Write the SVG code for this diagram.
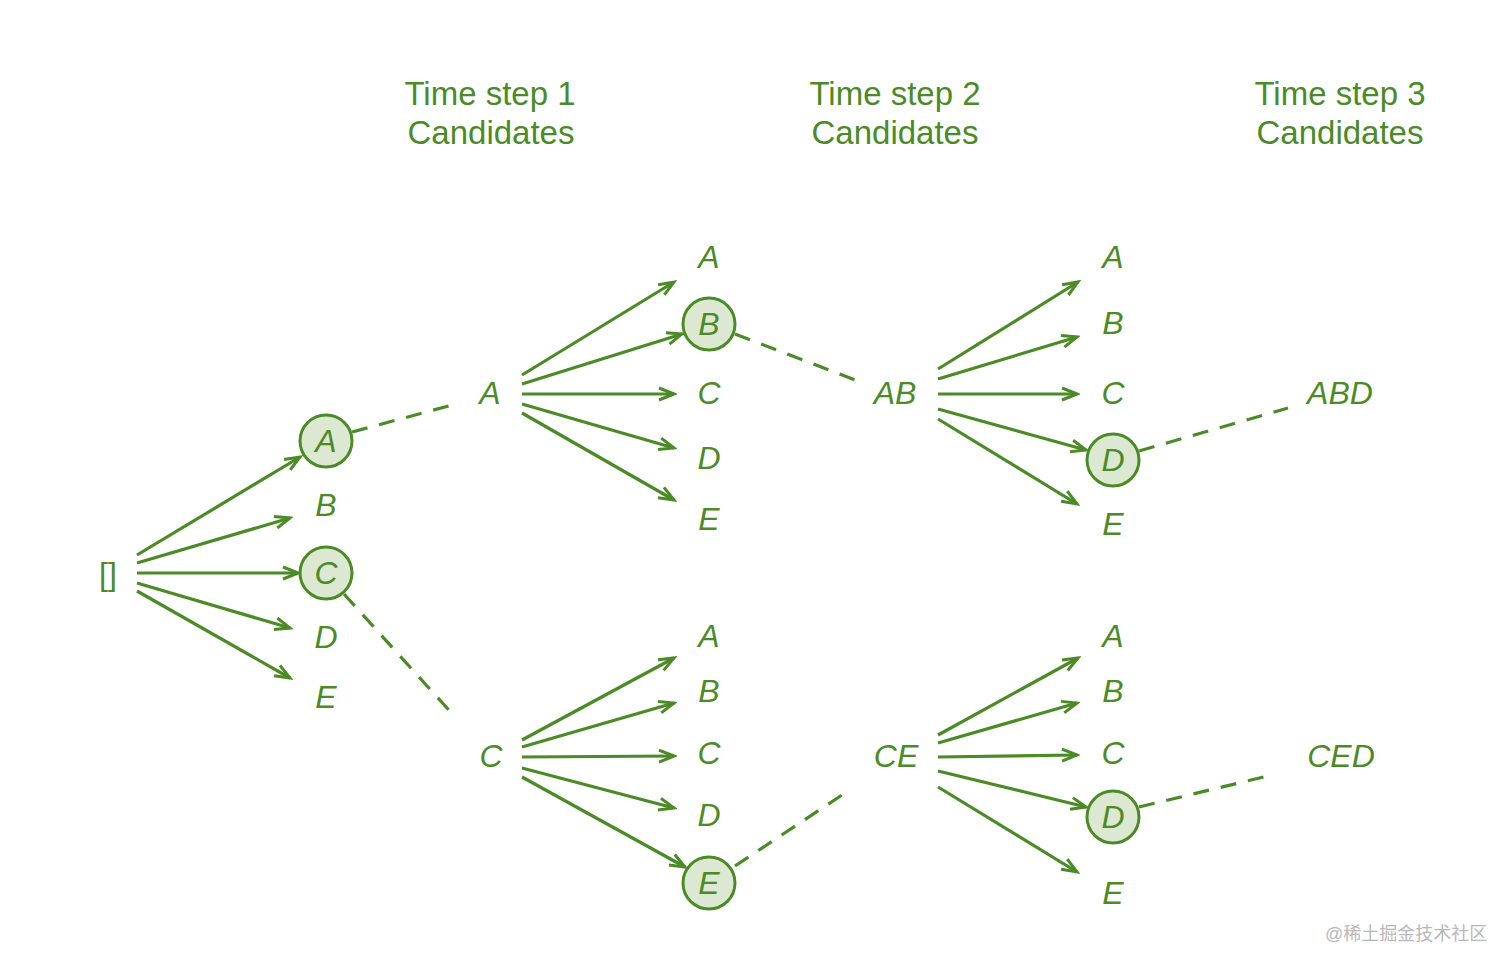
<svg xmlns="http://www.w3.org/2000/svg" width="1512" height="969" viewBox="0 0 1512 969">
<style>
.hdr{font-family:"Liberation Sans",Arial,sans-serif;font-size:33px;fill:#4b8b25;text-anchor:middle}
.lbl{font-family:"Liberation Sans",Arial,sans-serif;font-size:32px;font-style:italic;fill:#4b8b25;text-anchor:middle}
.sel{fill:#dde8d3;stroke:#4b8b25;stroke-width:3}
.arr{stroke:#4b8b25;stroke-width:3.2;fill:none;marker-end:url(#ah)}
.dash{stroke:#4b8b25;stroke-width:3.2;fill:none;stroke-dasharray:16 12}
.wm{font-family:"Liberation Sans","Noto Sans CJK SC",sans-serif;font-size:18px;fill:#b8b8b8}
</style>
<defs>
<marker id="ah" markerUnits="userSpaceOnUse" markerWidth="20" markerHeight="16" refX="17" refY="8" orient="auto">
<path d="M2,2 L17,8 L2,14" fill="none" stroke="#4b8b25" stroke-width="3"/>
</marker>
</defs>
<rect width="1512" height="969" fill="#fff"/>
<g id="headers">
<text class="hdr" x="490" y="105">Time step 1</text>
<text class="hdr" x="491" y="144">Candidates</text>
<text class="hdr" x="895" y="105">Time step 2</text>
<text class="hdr" x="895" y="144">Candidates</text>
<text class="hdr" x="1340" y="105">Time step 3</text>
<text class="hdr" x="1340" y="144">Candidates</text>
</g>
<g id="connectors">
<line class="arr" x1="137" y1="555" x2="300" y2="457"/>
<line class="arr" x1="137" y1="563" x2="290" y2="518"/>
<line class="arr" x1="137" y1="573" x2="298" y2="573"/>
<line class="arr" x1="137" y1="583" x2="290" y2="628"/>
<line class="arr" x1="137" y1="591" x2="290" y2="678"/>
<line class="dash" x1="352" y1="432" x2="456" y2="404"/>
<line class="dash" x1="344" y1="594" x2="456" y2="718"/>
<line class="arr" x1="522" y1="375" x2="674" y2="282"/>
<line class="arr" x1="522" y1="384" x2="682" y2="334"/>
<line class="arr" x1="522" y1="394" x2="674" y2="394"/>
<line class="arr" x1="522" y1="404" x2="674" y2="448"/>
<line class="arr" x1="522" y1="413" x2="674" y2="500"/>
<line class="dash" x1="735" y1="334" x2="855" y2="380"/>
<line class="arr" x1="938" y1="369" x2="1078" y2="282"/>
<line class="arr" x1="938" y1="379" x2="1077" y2="337"/>
<line class="arr" x1="938" y1="394" x2="1077" y2="394"/>
<line class="arr" x1="938" y1="409" x2="1086" y2="450"/>
<line class="arr" x1="938" y1="419" x2="1077" y2="504"/>
<line class="dash" x1="1139" y1="451" x2="1288" y2="408"/>
<line class="arr" x1="522" y1="740" x2="674" y2="658"/>
<line class="arr" x1="522" y1="747" x2="674" y2="703"/>
<line class="arr" x1="522" y1="757" x2="674" y2="756"/>
<line class="arr" x1="522" y1="768" x2="674" y2="808"/>
<line class="arr" x1="522" y1="777" x2="685" y2="867"/>
<line class="dash" x1="735" y1="866" x2="845" y2="793"/>
<line class="arr" x1="938" y1="735" x2="1078" y2="658"/>
<line class="arr" x1="938" y1="743" x2="1077" y2="703"/>
<line class="arr" x1="938" y1="757" x2="1077" y2="755"/>
<line class="arr" x1="938" y1="771" x2="1086" y2="807"/>
<line class="arr" x1="938" y1="787" x2="1077" y2="872"/>
<line class="dash" x1="1139" y1="807" x2="1272" y2="775"/>
</g>
<g id="root"><text class="lbl" x="108" y="585" style="font-style:normal">[]</text></g>
<g id="t1">
<g id="t1-A"><circle class="sel" cx="326" cy="441" r="26"/><text class="lbl" x="326" y="452">A</text></g>
<g id="t1-B"><text class="lbl" x="326" y="516">B</text></g>
<g id="t1-C"><circle class="sel" cx="326" cy="573" r="26"/><text class="lbl" x="326" y="584">C</text></g>
<g id="t1-D"><text class="lbl" x="326" y="648">D</text></g>
<g id="t1-E"><text class="lbl" x="326" y="708">E</text></g>
</g>
<g id="n-A"><text class="lbl" x="490" y="404">A</text></g>
<g id="n-C"><text class="lbl" x="491" y="767">C</text></g>
<g id="t2a">
<g id="t2a-A"><text class="lbl" x="709" y="268">A</text></g>
<g id="t2a-B"><circle class="sel" cx="709" cy="324" r="26"/><text class="lbl" x="709" y="335">B</text></g>
<g id="t2a-C"><text class="lbl" x="709" y="404">C</text></g>
<g id="t2a-D"><text class="lbl" x="709" y="469">D</text></g>
<g id="t2a-E"><text class="lbl" x="709" y="530">E</text></g>
</g>
<g id="t2c">
<g id="t2c-A"><text class="lbl" x="709" y="647">A</text></g>
<g id="t2c-B"><text class="lbl" x="709" y="702">B</text></g>
<g id="t2c-C"><text class="lbl" x="709" y="764">C</text></g>
<g id="t2c-D"><text class="lbl" x="709" y="826">D</text></g>
<g id="t2c-E"><circle class="sel" cx="709" cy="883" r="26"/><text class="lbl" x="709" y="894">E</text></g>
</g>
<g id="n-AB"><text class="lbl" x="895" y="404">AB</text></g>
<g id="n-CE"><text class="lbl" x="896" y="767">CE</text></g>
<g id="t3a">
<g id="t3a-A"><text class="lbl" x="1113" y="268">A</text></g>
<g id="t3a-B"><text class="lbl" x="1113" y="334">B</text></g>
<g id="t3a-C"><text class="lbl" x="1113" y="404">C</text></g>
<g id="t3a-D"><circle class="sel" cx="1113" cy="460" r="26"/><text class="lbl" x="1113" y="471">D</text></g>
<g id="t3a-E"><text class="lbl" x="1113" y="535">E</text></g>
</g>
<g id="t3c">
<g id="t3c-A"><text class="lbl" x="1113" y="647">A</text></g>
<g id="t3c-B"><text class="lbl" x="1113" y="702">B</text></g>
<g id="t3c-C"><text class="lbl" x="1113" y="764">C</text></g>
<g id="t3c-D"><circle class="sel" cx="1113" cy="817" r="26"/><text class="lbl" x="1113" y="828">D</text></g>
<g id="t3c-E"><text class="lbl" x="1113" y="904">E</text></g>
</g>
<g id="n-ABD"><text class="lbl" x="1340" y="404">ABD</text></g>
<g id="n-CED"><text class="lbl" x="1341" y="767">CED</text></g>
<text class="wm" x="1325" y="940">@稀土掘金技术社区</text>
</svg>
